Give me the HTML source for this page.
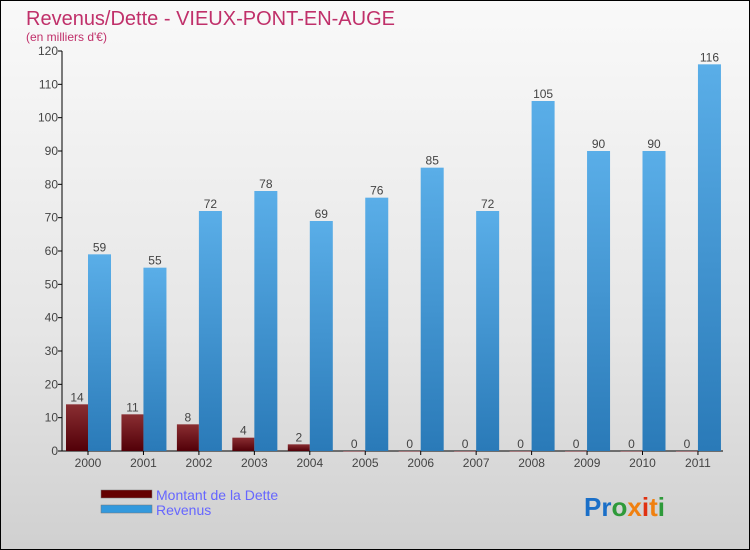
<!DOCTYPE html>
<html><head><meta charset="utf-8"><style>
body{margin:0;}
#wrap{position:relative;width:748px;height:548px;border:1px solid #000;background:linear-gradient(#f9f9f9,#e6e6e6 60%,#d0d0d0);font-family:"Liberation Sans",sans-serif;overflow:hidden}
</style></head><body>
<div id="wrap">
<svg id="chart" width="748" height="548">
<defs>
<linearGradient id="gb" x1="0" y1="0" x2="0" y2="1"><stop offset="0" stop-color="#5aaee8"/><stop offset="1" stop-color="#2a7ab8"/></linearGradient>
<linearGradient id="gr" x1="0" y1="0" x2="0" y2="1"><stop offset="0" stop-color="#8a2e32"/><stop offset="1" stop-color="#520008"/></linearGradient>
</defs>
<text x="25" y="24" font-size="20" fill="#c0306a">Revenus/Dette - VIEUX-PONT-EN-AUGE</text>
<text x="25" y="40" font-size="12" fill="#c0306a">(en milliers d'€)</text>
<g id="axes"></g><g id="bars"></g>
<g>
<rect x="100" y="489" width="51" height="8" fill="#650000" stroke="#777" stroke-width="0.5"/>
<text x="155" y="499" font-size="14" fill="#6666ff">Montant de la Dette</text>
<rect x="100" y="504" width="51" height="8" fill="#3399dd" stroke="#777" stroke-width="0.5"/>
<text x="155" y="514" font-size="14" fill="#6666ff">Revenus</text>
</g>
<text x="583" y="515" font-size="26" font-weight="bold"><tspan fill="#1a6fc8">Pr</tspan><tspan fill="#2e9a3a">o</tspan><tspan fill="#f08010">x</tspan><tspan fill="#e03010">i</tspan><tspan fill="#f08010">t</tspan><tspan fill="#2e9a3a">i</tspan></text>
</svg>
</div>
<script>
const years=["2000","2001","2002","2003","2004","2005","2006","2007","2008","2009","2010","2011"];
const dette=[14,11,8,4,2,0,0,0,0,0,0,0];
const revenus=[59,55,72,78,69,76,85,72,105,90,90,116];
const yTicks=[0,10,20,30,40,50,60,70,80,90,100,110,120];
const NS="http://www.w3.org/2000/svg";
const y0=450,yTop=50,yMax=120,x0=61;
function y(v){return y0-(v/yMax)*(y0-yTop);}
function xc(i){return 87+i*55.45;}
function mk(t,a,p){const e=document.createElementNS(NS,t);for(const k in a)e.setAttribute(k,a[k]);p.appendChild(e);return e;}
const ax=document.getElementById('axes'),bg=document.getElementById('bars');
let l=mk('line',{x1:x0,y1:yTop,x2:x0,y2:y0,stroke:'#000'},ax);


l=mk('line',{x1:x0,y1:y0,x2:722,y2:y0,stroke:'#000'},ax);


yTicks.forEach(v=>{
 mk('line',{x1:x0-4,y1:y(v),x2:x0,y2:y(v),stroke:'#000'},ax);
 const t=mk('text',{x:x0-4,y:y(v)+4,'font-size':12,'text-anchor':'end',fill:'#444'},ax);
 t.textContent=v;
 
 
});
years.forEach((yr,i)=>{
 const c=xc(i);
 const t=mk('text',{x:c,y:466,'font-size':12,'text-anchor':'middle',fill:'#444'},ax);
 t.textContent=yr;
 
 
 mk('line',{x1:c,y1:y0,x2:c,y2:y0+4,stroke:'#000'},ax);
 const d=dette[i],r=revenus[i];
 const bd=mk('rect',{x:c-22,y:y(d),width:22,height:Math.max(y0-y(d),0.5),fill:'url(#gr)'},bg);
 
 
 const br=mk('rect',{x:c,y:y(r),width:23,height:y0-y(r),fill:'url(#gb)'},bg);
 
 
 const ld=mk('text',{x:c-11,y:y(d)-3,'font-size':12,'text-anchor':'middle',fill:'#444'},bg);
 ld.textContent=d;
 
 
 const lr=mk('text',{x:c+11.5,y:y(r)-3,'font-size':12,'text-anchor':'middle',fill:'#444'},bg);
 lr.textContent=r;
 
 
});
</script>
</body></html>
